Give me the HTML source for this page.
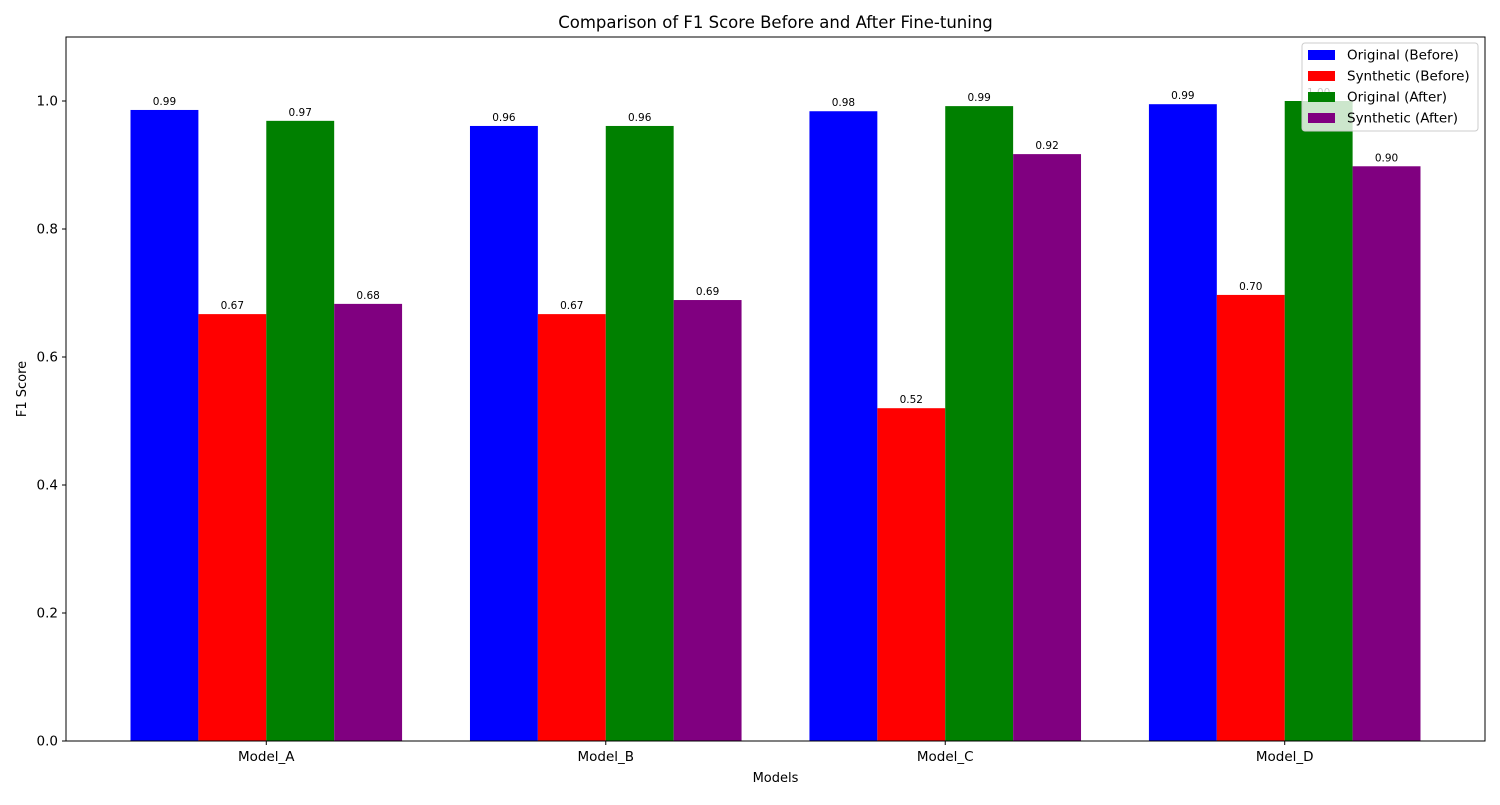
<!DOCTYPE html>
<html><head><meta charset="utf-8"><style>
body{margin:0;background:#fff;font-family:"Liberation Sans","DejaVu Sans",sans-serif}
svg text{font-family:"DejaVu Sans","Liberation Sans",sans-serif}
</style></head><body>
<svg id="chart" width="1500" height="800" xmlns="http://www.w3.org/2000/svg">
<rect width="1500" height="800" fill="#fff"/>
<text x="775.5" y="28" font-size="16.5" text-anchor="middle">Comparison of F1 Score Before and After Fine-tuning</text>
<g id="bars"></g><g id="axes"></g>
<text x="775.5" y="782" font-size="13" text-anchor="middle">Models</text>
<text transform="translate(26,389) rotate(-90)" font-size="13" text-anchor="middle">F1 Score</text>
<rect x="66" y="37" width="1419" height="704" fill="none" stroke="#000" stroke-width="1"/>
<g id="legend"></g>
</svg>
<script>
const categories=["Model_A","Model_B","Model_C","Model_D"];
const seriesNames=["Original (Before)","Synthetic (Before)","Original (After)","Synthetic (After)"];
const seriesColors=["#0000ff","#ff0000","#008000","#800080"];
const origBefore=[0.986,0.961,0.984,0.995];
const synthBefore=[0.667,0.667,0.520,0.697];
const origAfter=[0.969,0.961,0.992,1.0];
const synthAfter=[0.683,0.689,0.917,0.898];
const yTicks=[0,0.2,0.4,0.6,0.8,1.0];
const series=[origBefore,synthBefore,origAfter,synthAfter];
const NS="http://www.w3.org/2000/svg";
const L=66,R=1485,T=37,B=741,xmin=-0.59,xmax=3.59,ymax=1.1;
const x=v=>L+(v-xmin)/(xmax-xmin)*(R-L);
const y=v=>B-v/ymax*(B-T);
function mk(tag,attrs,parent,text){const e=document.createElementNS(NS,tag);for(const k in attrs)e.setAttribute(k,attrs[k]);if(text!=null)e.textContent=text;parent.appendChild(e);return e;}
const bars=document.getElementById('bars'),axes=document.getElementById('axes'),leg=document.getElementById('legend');
const w=0.2;
series.forEach((s,si)=>{s.forEach((v,ci)=>{
 const c=ci+(si-1.5)*w;
 const r=mk('rect',{x:x(c-w/2),y:y(v),width:x(c+w/2)-x(c-w/2),height:y(0)-y(v),fill:seriesColors[si]},bars);
 
 
 const t=mk('text',{x:x(c),y:y(v)-5,'font-size':10.5,'text-anchor':'middle'},bars,v.toFixed(2));
 
 
});});
yTicks.forEach(v=>{
 mk('line',{x1:L-4,x2:L,y1:y(v),y2:y(v),stroke:'#000'},axes);
 const t=mk('text',{x:L-8,y:y(v)+4.5,'font-size':13.5,'text-anchor':'end'},axes,v.toFixed(1));
 
 
});
categories.forEach((c,i)=>{
 mk('line',{x1:x(i),x2:x(i),y1:B,y2:B+4,stroke:'#000'},axes);
 const t=mk('text',{x:x(i),y:B+20,'font-size':13.5,'text-anchor':'middle'},axes,c);
 
 
});
mk('rect',{x:1302,y:43,width:176,height:88,fill:'#fff','fill-opacity':0.8,stroke:'#ccc',rx:3},leg);
seriesNames.forEach((n,i)=>{
 const yy=55+i*21;
 mk('rect',{x:1308,y:yy-5,width:27,height:10,fill:seriesColors[i]},leg);
 const t=mk('text',{x:1347,y:yy+4.5,'font-size':13.5},leg,n);
 
 
});
</script>
</body></html>
